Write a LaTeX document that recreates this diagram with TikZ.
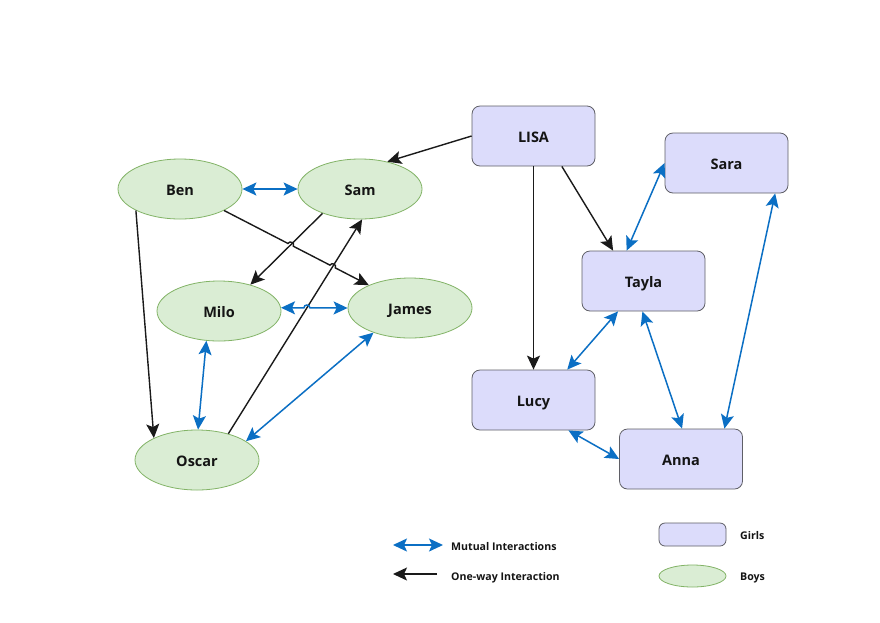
\documentclass[tikz,border=0pt]{standalone}
\usepackage{fontspec}
\setmainfont{Open Sans}
\usetikzlibrary{arrows.meta,shapes.geometric,intersections,calc}
\definecolor{boyfill}{HTML}{DAEDD4}
\definecolor{boyline}{HTML}{82B366}
\definecolor{girlfill}{HTML}{DCDCFB}
\definecolor{girlline}{HTML}{5F5F66}
\definecolor{mutual}{HTML}{0B6FC4}
\definecolor{oneway}{HTML}{1A1A1A}
\definecolor{txt}{HTML}{141414}
\begin{document}
\begin{tikzpicture}[x=1pt,y=-1pt,
  lbl/.style={font=\bfseries\fontsize{14.5}{16}\selectfont,text=txt,text height=12pt,text depth=0pt},
  boy/.style={ellipse,draw=boyline,fill=boyfill,line width=0.8pt,minimum width=124pt,minimum height=60pt,inner sep=0pt,lbl},
  girl/.style={rectangle,rounded corners=8pt,draw=girlline,fill=girlfill,line width=0.8pt,minimum width=123pt,minimum height=60pt,inner sep=0pt,lbl},
  mut/.style={draw=mutual,line width=1.5pt,{Stealth[length=14pt,width=13pt,inset=3pt]}-{Stealth[length=14pt,width=13pt,inset=3pt]}},
  one/.style={draw=oneway,line width=1.4pt,-{Stealth[length=14pt,width=13pt,inset=3pt]}},
  jump/.style={bend left=90,looseness=1.6},
  legtxt/.style={anchor=base west,font=\bfseries\fontsize{10.6}{12}\selectfont,text=txt,inner sep=0pt}
]
\fill[white] (0,0) rectangle (880,622);
\useasboundingbox (0,0) rectangle (880,622);

% boys
\node[boy] (Ben)   at (180,189) {Ben};
\node[boy] (Sam)   at (360,189) {Sam};
\node[boy] (Milo)  at (219,311) {Milo};
\node[boy] (James) at (410,308) {James};
\node[boy] (Oscar) at (197,460) {Oscar};

% girls
\node[girl] (LISA)  at (533.5,136) {LISA};
\node[girl] (Sara)  at (726.5,163) {Sara};
\node[girl] (Tayla) at (643.5,281) {Tayla};
\node[girl] (Lucy)  at (533.5,400) {Lucy};
\node[girl] (Anna)  at (681,459) {Anna};

% girls connectors
\draw[one] (LISA.west) -- (Sam.45);
\draw[one] (LISA.south) -- (Lucy.north);
\draw[one] (LISA.-47) -- (Tayla.135);
\draw[mut] (Tayla.119.5) -- (Sara.west);
\draw[mut] (Sara.-32.5) -- (Anna.35.5);
\draw[mut] (Tayla.-130) -- (Lucy.42.3);
\draw[mut] (Tayla.-92) -- (Anna.88);
\draw[mut] (Lucy.-41.4) -- (Anna.west);

% boys connectors
\draw[mut] (Ben.east) -- (Sam.west);
\draw[one,name path=sm] (Sam.-147.7) -- (Milo.40);
\draw[one,name path=os] (Oscar.40) -- (Sam.-86);
\draw[one] (Ben.-154) -- (Oscar.153);
\draw[mut] (Milo.-113) -- (Oscar.88);
\draw[mut] (Oscar.21.4) -- (James.-146.7);

\path[name path=bj] (Ben.-26.6) -- (James.151.9);
\path[name intersections={of=bj and sm,by=j1}];
\path[name intersections={of=bj and os,by=j2}];
\draw[one] (Ben.-26.6) -- ($(j1)!3pt!(Ben.-26.6)$) to[jump] ($(j1)!3pt!(James.151.9)$)
  -- ($(j2)!3pt!(Ben.-26.6)$) to[jump] ($(j2)!3pt!(James.151.9)$) -- (James.151.9);

\path[name path=mj] (Milo.3) -- (James.west);
\path[name intersections={of=mj and os,by=j3}];
\draw[mut] (Milo.3) -- ($(j3)!3pt!(Milo.3)$) to[jump] ($(j3)!3pt!(James.west)$) -- (James.west);

% legend
\coordinate (m1) at (393,545);
\coordinate (m2) at (443,545);
\draw[mut] (m1) -- (m2);
\coordinate (o1) at (437,574);
\coordinate (o2) at (393,574);
\draw[one] (o1) -- (o2);
\node[legtxt] (tm) at (451,550.5) {Mutual Interactions};
\node[legtxt] (to) at (451,580) {One-way Interaction};
\node[girl,minimum width=67pt,minimum height=23pt,rounded corners=6pt] (lg) at (692.5,534.5) {};
\node[boy,minimum width=67pt,minimum height=22pt] (lb) at (692.5,576) {};
\node[legtxt] (tg) at (740,539) {Girls};
\node[legtxt] (tb) at (740,580) {Boys};
\end{tikzpicture}
\end{document}
